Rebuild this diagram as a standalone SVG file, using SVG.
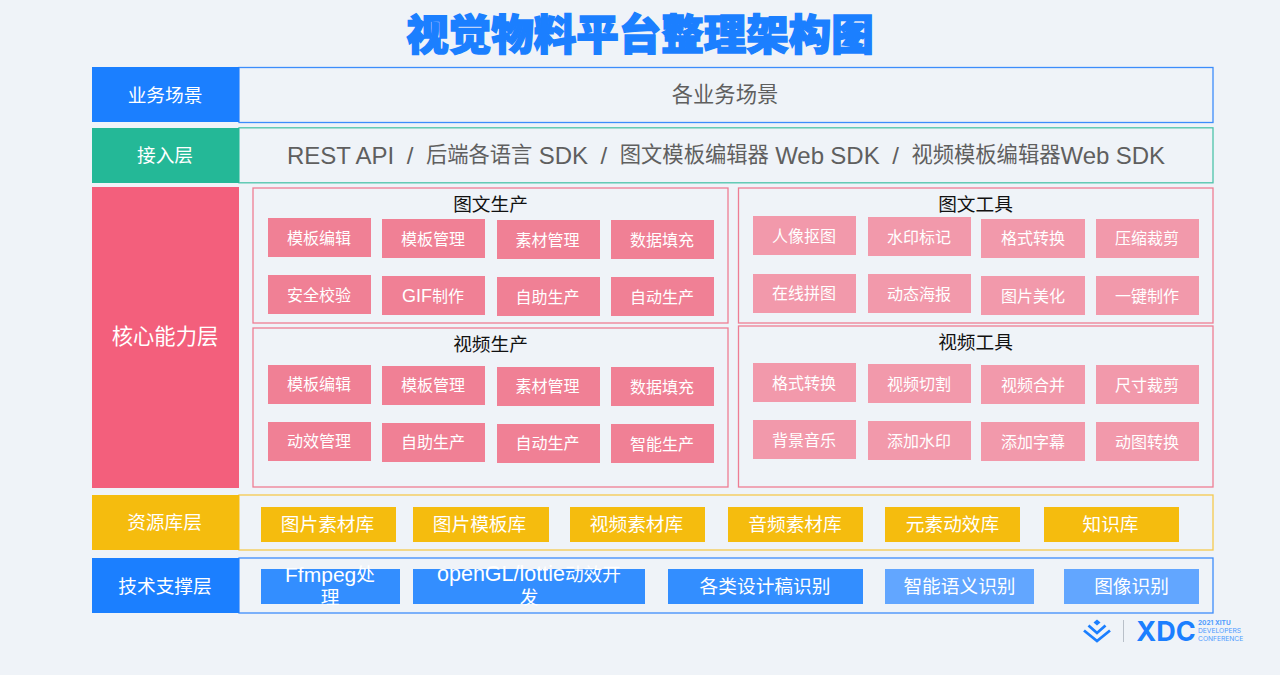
<svg xmlns="http://www.w3.org/2000/svg" width="1280" height="675" viewBox="0 0 1280 675">
<style>
text{font-family:"Liberation Sans","Noto Sans CJK SC",sans-serif;text-anchor:middle;dominant-baseline:central}
.lab{fill:#fff;font-size:18.7px}
.t{fill:#fff;font-size:16px}
.r{fill:#fff;font-size:18.7px}
.p{fill:#f08095}.q{fill:#f299ab}
.y{fill:#f5bc0e}.b{fill:#338eff}.c{fill:#62a6ff}
.fr{fill:none;stroke-width:1.3}
.h{fill:#111;font-size:18.7px}
.g{fill:#5f5f5f}
.s{font-family:Inter,sans-serif;text-anchor:start;fill:#4d9bff;font-size:6.700px}
</style>
<rect width="1280" height="675" fill="#eff3f8"/>
<text id="title" x="640" y="31" style="font-family:'Noto Sans CJK SC',sans-serif;font-weight:900;font-size:42.500px;fill:#1b7fff;stroke:#1b7fff;stroke-width:1.500">视觉物料平台整理架构图</text>
<g id="row-scene"><rect class="fr" x="239" y="67.500" width="974" height="55" stroke="#3c8dfb"/><rect x="92" y="67" width="147" height="55" fill="#1b7fff"/><text class="lab" x="165" y="95">业务场景</text><text class="g" x="725" y="95" font-size="21.300">各业务场景</text></g>
<g id="row-access"><rect class="fr" x="239" y="127.800" width="974" height="55" stroke="#4cc4aa"/><rect x="92" y="128" width="147" height="55" fill="#24b897"/><text class="lab" x="165" y="155">接入层</text><text class="g" x="726" y="155" font-size="24" word-spacing="-0.4" xml:space="preserve">REST API  /  <tspan font-size="21.300">后端各语言</tspan> SDK  /  <tspan font-size="21.300">图文模板编辑器</tspan> Web SDK  /  <tspan font-size="21.300">视频模板编辑器</tspan>Web SDK</text></g>
<g id="row-core"><rect x="92" y="187" width="147" height="301" fill="#f35f7c"/><text x="165" y="337" fill="#fff" font-size="21.300">核心能力层</text></g>
<g id="panel-tw"><rect class="fr" x="253" y="188" width="475" height="135" stroke="#ee7d93"/><text class="h" x="490.500" y="204">图文生产</text>
<rect class="p" x="268" y="218" width="103" height="39"/><text class="t" x="319" y="238">模板编辑</text>
<rect class="p" x="382" y="219" width="103" height="39"/><text class="t" x="433" y="239">模板管理</text>
<rect class="p" x="497" y="220" width="103" height="39"/><text class="t" x="547.500" y="240">素材管理</text>
<rect class="p" x="611" y="220" width="103" height="39"/><text class="t" x="662" y="240">数据填充</text>
<rect class="p" x="268" y="275" width="103" height="39"/><text class="t" x="319" y="295">安全校验</text>
<rect class="p" x="382" y="276" width="103" height="39"/><text class="t" x="433" y="296" style="font-size:18px">GIF<tspan font-size="16">制作</tspan></text>
<rect class="p" x="497" y="277" width="103" height="39"/><text class="t" x="547.500" y="297">自助生产</text>
<rect class="p" x="611" y="277" width="103" height="39"/><text class="t" x="662" y="297">自动生产</text></g>
<g id="panel-vp"><rect class="fr" x="253" y="328" width="475" height="159" stroke="#ee7d93"/><text class="h" x="490.500" y="344">视频生产</text>
<rect class="p" x="268" y="365" width="103" height="39"/><text class="t" x="319" y="384">模板编辑</text>
<rect class="p" x="382" y="366" width="103" height="39"/><text class="t" x="433" y="385">模板管理</text>
<rect class="p" x="497" y="367" width="103" height="39"/><text class="t" x="547.500" y="386">素材管理</text>
<rect class="p" x="611" y="367" width="103" height="39"/><text class="t" x="662" y="387">数据填充</text>
<rect class="p" x="268" y="422" width="103" height="39"/><text class="t" x="319" y="441">动效管理</text>
<rect class="p" x="382" y="423" width="103" height="39"/><text class="t" x="433" y="442">自助生产</text>
<rect class="p" x="497" y="424" width="103" height="39"/><text class="t" x="547.500" y="443">自动生产</text>
<rect class="p" x="611" y="424" width="103" height="39"/><text class="t" x="662" y="444">智能生产</text></g>
<g id="panel-tt"><rect class="fr" x="738.500" y="188" width="474.500" height="135" stroke="#ee7d93"/><text class="h" x="975.500" y="204">图文工具</text>
<rect class="q" x="753" y="216" width="103" height="39"/><text class="t" x="804" y="236">人像抠图</text>
<rect class="q" x="868" y="217" width="103" height="39"/><text class="t" x="919" y="237">水印标记</text>
<rect class="q" x="981" y="219" width="104" height="39"/><text class="t" x="1033" y="238">格式转换</text>
<rect class="q" x="1096" y="219" width="103" height="39"/><text class="t" x="1147" y="238">压缩裁剪</text>
<rect class="q" x="753" y="274" width="103" height="39"/><text class="t" x="804" y="293">在线拼图</text>
<rect class="q" x="868" y="274" width="103" height="39"/><text class="t" x="919" y="294">动态海报</text>
<rect class="q" x="981" y="276" width="104" height="39"/><text class="t" x="1033" y="296">图片美化</text>
<rect class="q" x="1096" y="276" width="103" height="39"/><text class="t" x="1147" y="296">一键制作</text></g>
<g id="panel-vt"><rect class="fr" x="738.500" y="326" width="474.500" height="161" stroke="#ee7d93"/><text class="h" x="975.500" y="342">视频工具</text>
<rect class="q" x="753" y="363" width="103" height="39"/><text class="t" x="804" y="383">格式转换</text>
<rect class="q" x="868" y="364" width="103" height="39"/><text class="t" x="919" y="384">视频切割</text>
<rect class="q" x="981" y="365" width="104" height="39"/><text class="t" x="1033" y="385">视频合并</text>
<rect class="q" x="1096" y="365" width="103" height="39"/><text class="t" x="1147" y="385">尺寸裁剪</text>
<rect class="q" x="753" y="420" width="103" height="39"/><text class="t" x="804" y="440">背景音乐</text>
<rect class="q" x="868" y="421" width="103" height="39"/><text class="t" x="919" y="441">添加水印</text>
<rect class="q" x="981" y="422" width="104" height="39"/><text class="t" x="1033" y="442">添加字幕</text>
<rect class="q" x="1096" y="422" width="103" height="39"/><text class="t" x="1147" y="442">动图转换</text></g>
<g id="row-res"><rect class="fr" x="239" y="495" width="974" height="55" stroke="#f4c94e"/><rect x="92" y="495" width="147" height="55" fill="#f5bc0e"/><text class="lab" x="164.500" y="522">资源库层</text>
<rect class="y" x="261" y="507" width="135" height="35"/><text class="r" x="327.500" y="524">图片素材库</text>
<rect class="y" x="413" y="507" width="136" height="35"/><text class="r" x="479.500" y="524">图片模板库</text>
<rect class="y" x="570" y="507" width="135" height="35"/><text class="r" x="636.500" y="524">视频素材库</text>
<rect class="y" x="728" y="507" width="135" height="35"/><text class="r" x="795" y="524">音频素材库</text>
<rect class="y" x="885" y="507" width="135" height="35"/><text class="r" x="952.500" y="524">元素动效库</text>
<rect class="y" x="1044" y="507" width="135" height="35"/><text class="r" x="1110.500" y="524">知识库</text></g>
<g id="row-tech"><rect class="fr" x="239" y="558" width="974" height="55" stroke="#3c8dfb"/><rect x="92" y="558" width="147" height="55" fill="#1b7fff"/><text class="lab" x="165" y="586">技术支撑层</text>
<rect class="b" x="261" y="569" width="139" height="35"/><text class="r" x="330" y="574" style="font-size:21px">Ffmpeg<tspan font-size="18.700">处</tspan></text><text class="r" x="330" y="597">理</text>
<rect class="b" x="413" y="569" width="232" height="35"/><text class="r" x="529" y="574" style="font-size:21.500px">openGL/lottie<tspan font-size="18.700">动效开</tspan></text><text class="r" x="529" y="597">发</text>
<rect class="b" x="668" y="569" width="195" height="35"/><text class="r" x="765" y="586">各类设计稿识别</text>
<rect class="c" x="885" y="569" width="149" height="35"/><text class="r" x="959.500" y="586">智能语义识别</text>
<rect class="c" x="1064" y="569" width="135" height="35"/><text class="r" x="1131.500" y="586">图像识别</text></g>
<g id="logo"><path d="M1097 619.500l3.500 3-3.500 3-3.500-3z" fill="#1b7fff"/><path d="M1088.500 625.500l8.500 7.500 8.500-7.500M1084 630.500l13 10.500 13-10.500" fill="none" stroke="#1b7fff" stroke-width="2.800"/><rect x="1123" y="620" width="1" height="22" fill="#b9c0c9"/>
<text x="1166" y="631" style="font-family:Inter,sans-serif;font-weight:700;font-size:27px;fill:#1b7fff">XDC</text>
<text class="s" x="1198" y="623" style="font-weight:700;font-size:6.500px">2021 XITU</text><text class="s" x="1198" y="631">DEVELOPERS</text><text class="s" x="1198" y="638.500">CONFERENCE</text></g>
</svg>
